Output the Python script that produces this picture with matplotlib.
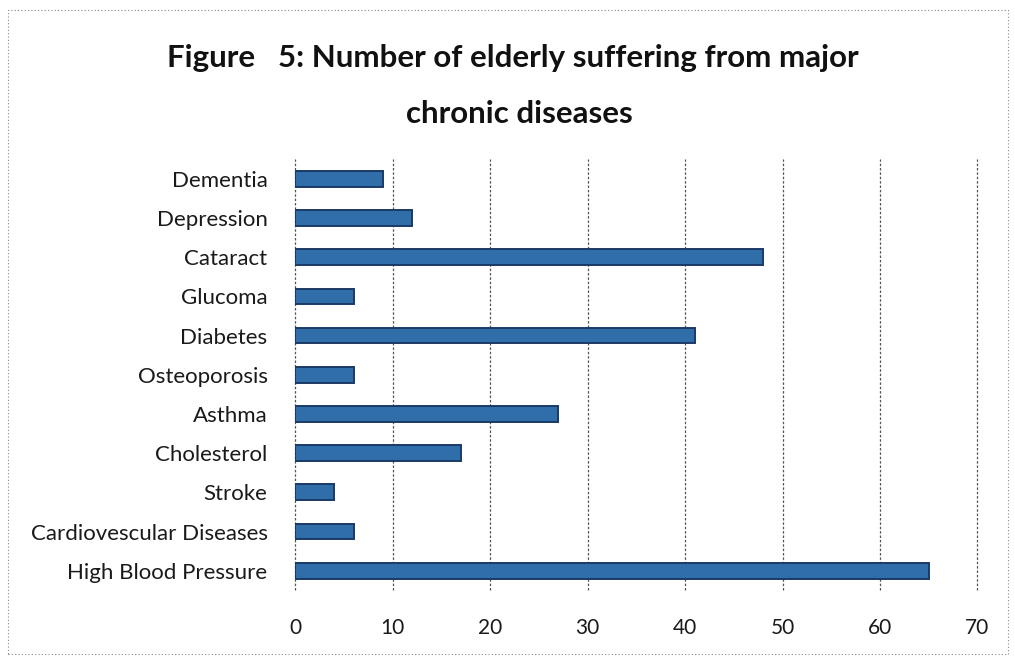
import matplotlib.pyplot as plt
from matplotlib.patches import Rectangle

# Chronic diseases, listed bottom to top as drawn
diseases = [
    "High Blood Pressure",
    "Cardiovescular Diseases",
    "Stroke",
    "Cholesterol",
    "Asthma",
    "Osteoporosis",
    "Diabetes",
    "Glucoma",
    "Cataract",
    "Depression",
    "Dementia",
]
counts = [65, 6, 4, 17, 27, 6, 41, 6, 48, 12, 9]
x_ticks = [0, 10, 20, 30, 40, 50, 60, 70]

plt.rcParams["font.family"] = ["Lato", "DejaVu Sans"]

fig = plt.figure(figsize=(10.15, 6.61), dpi=100)
fig.patch.set_facecolor("white")
ax = fig.add_axes([0.291, 0.107, 0.672, 0.652])

y = list(range(len(diseases)))
ax.barh(y, counts, height=0.4, color="#2F6EA8", edgecolor="#1A3A66",
        linewidth=1.4, zorder=3)

ax.set_xlim(0, 70)
ax.set_ylim(-0.5, 10.5)
ax.set_xticks(x_ticks)
ax.set_yticks(y)
ax.set_yticklabels(diseases)

ax.xaxis.grid(True, linestyle=(0, (2, 1.5)), color="#555555", linewidth=0.9, zorder=0)
for gl in ax.get_xgridlines():
    gl.set_clip_on(False)
ax.yaxis.grid(False)
for side in ["top", "right", "bottom", "left"]:
    ax.spines[side].set_visible(False)

ax.tick_params(axis="x", length=0, pad=20, labelsize=15, colors="#1a1a1a")
ax.tick_params(axis="y", length=0, pad=20, labelsize=16, colors="#1a1a1a")

fig.text(0.505, 0.912, "Figure   5: Number of elderly suffering from major",
         ha="center", va="center", fontsize=22.5, fontweight="bold", color="#111111")
fig.text(0.512, 0.828, "chronic diseases",
         ha="center", va="center", fontsize=22.5, fontweight="bold", color="#111111")

# Dotted frame around the chart
fig.patches.append(Rectangle((0.008, 0.01), 0.985, 0.975, transform=fig.transFigure,
                             fill=False, linestyle=(0, (1, 2)), edgecolor="#888888",
                             linewidth=0.8))

fig.savefig("out.png", dpi=100, facecolor="white")
